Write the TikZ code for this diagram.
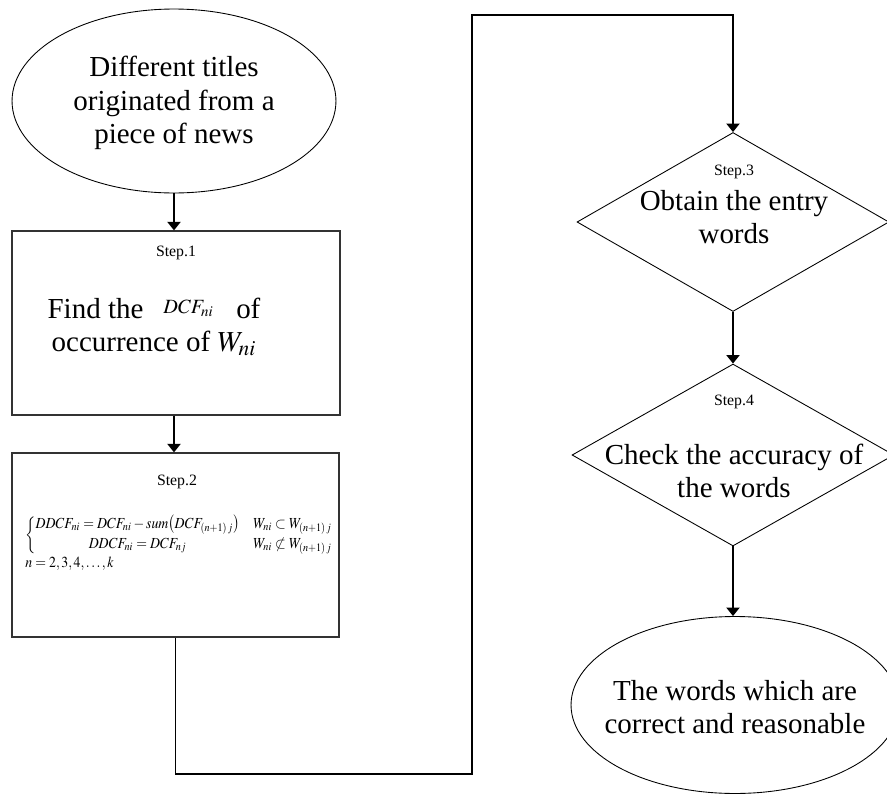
\documentclass[tikz,border=0pt]{standalone}
\usepackage{mathptmx}
\usepackage{fontspec}
\setmainfont{Liberation Serif}
\usepackage{graphicx}
\usetikzlibrary{shapes.geometric,arrows.meta}
\tikzset{
  startStop/.style={ellipse,draw,line width=0.5pt,inner sep=0pt,minimum width=6.5cm,minimum height=3.6cm},
  stepBox/.style={rectangle,draw=black!80,line width=0.7pt,inner sep=0pt,minimum width=6.56cm,minimum height=3.68cm},
  checkNode/.style={diamond,draw,line width=0.5pt,inner sep=0pt},
  stepTag/.style={font=\fontsize{9}{10}\selectfont,inner sep=0pt},
  bigText/.style={font=\fontsize{16.5}{19}\selectfont,align=center,inner sep=0pt},
  flow/.style={line width=1.1pt,-{Triangle[length=1.7mm,width=2.6mm]}}
}

\begin{document}
\begin{tikzpicture}[x=0.02cm,y=-0.02cm]
  \useasboundingbox (0,0) rectangle (887,795);
  % left column
  \node[startStop,minimum width=6.48cm,minimum height=3.68cm] (news) at (174,101) {};
  \node[bigText] (newsTxt) at (174,103) {Different titles\\originated from a\\piece of news};
  \node[stepBox] (step1) at (176,323) {};
  \node[stepTag] (tag1) at (176,253) {Step.1};
  \node[bigText] (dcfTxt) at (154,327) {Find the\hspace{0.4cm}\raisebox{2.8pt}{\fontsize{11.5}{12}\selectfont$DCF_{ni}$}\hspace{0.45cm}of\\occurrence of $W_{ni}$};
  \node[stepBox,minimum width=6.54cm] (step2) at (175.5,545) {};
  \node[stepTag] (tag2) at (177,482) {Step.2};
  \node[anchor=north west,inner sep=0pt] (ddcf) at (25,515) {\resizebox*{6.16cm}{1.15cm}{%
    \begin{tabular}{@{}l@{}}
    $\left\{\begin{array}{@{}c@{\quad}l@{}}
      DDCF_{ni}=DCF_{ni}-sum\bigl(DCF_{(n+1)\,j}\bigr) & W_{ni}\subset W_{(n+1)\,j}\\[1pt]
      DDCF_{ni}=DCF_{nj} & W_{ni}\not\subset W_{(n+1)\,j}
    \end{array}\right.$\\[3pt]
    $n=2,3,4,\ldots,k$
    \end{tabular}}};
  % right column
  \node[checkNode,minimum width=6.24cm,minimum height=3.58cm] (step3) at (733,222) {};
  \node[stepTag] (tag3) at (734,172) {Step.3};
  \node[bigText] (entryTxt) at (734,217) {Obtain the entry\\words};
  \node[checkNode,minimum width=6.44cm,minimum height=3.64cm] (step4) at (733,455) {};
  \node[stepTag] (tag4) at (734,402) {Step.4};
  \node[bigText] (accTxt) at (734,471) {Check the accuracy of\\the words};
  \node[startStop,minimum width=6.56cm,minimum height=3.54cm] (result) at (735,705) {};
  \node[bigText] (resultTxt) at (735,707) {The words which are\\correct and reasonable};
  \coordinate (loopBot) at (472,774);
  \coordinate (loopTop) at (472,15);
  % connectors
  \draw[flow] (news.south) -- (step1.north -| news.south);
  \draw[flow] (step1.south -| news.south) -- (step2.north -| news.south);
  \draw[flow] (step2.south) |- (loopBot) -- (loopTop) -| (step3.north);
  \draw[flow] (step3.south) -- (step4.north);
  \draw[flow] (step4.south) -- (result.north -| step4.south);
\end{tikzpicture}
\end{document}
